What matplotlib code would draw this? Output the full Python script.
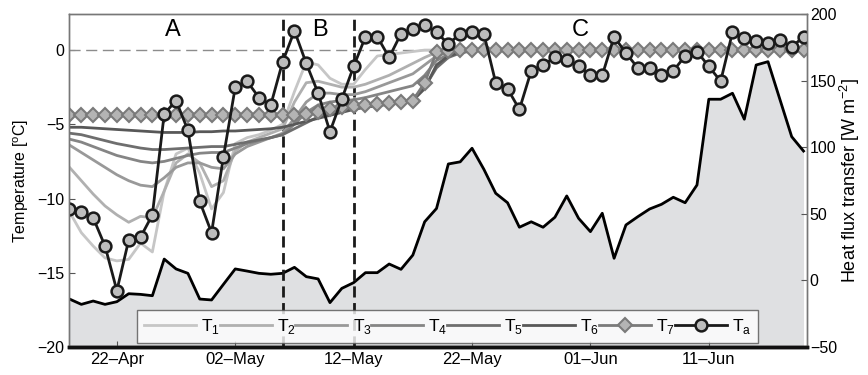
import numpy as np
import pandas as pd
import matplotlib
matplotlib.use("Agg")
import matplotlib.pyplot as plt
import matplotlib.dates as mdates

plt.rcParams["font.family"] = ["Liberation Sans", "DejaVu Sans"]
plt.rcParams["mathtext.fontset"] = "custom"
plt.rcParams["mathtext.rm"] = "Liberation Sans"

# daily values, 18-Apr .. 19-Jun
dates = pd.date_range("2013-04-18", "2013-06-19", freq="D")

ta = [-10.7, -10.9, -11.3, -13.2, -16.2, -12.8, -12.6, -11.1, -4.3, -3.4, -5.4, -10.2, -12.3,
      -7.2, -2.5, -2.1, -3.2, -3.7, -0.8, 1.3, -0.9, -2.9, -5.5, -3.3, -1.1, 0.9, 0.9, -0.5,
      1.1, 1.4, 1.7, 1.2, 0.4, 1.1, 1.2, 1.1, -2.2, -2.6, -4.0, -1.4, -1.0, -0.5, -0.7, -1.1,
      -1.7, -1.7, 0.9, -0.2, -1.2, -1.2, -1.7, -1.4, -0.4, -0.1, -1.1, -2.1, 1.2, 0.8, 0.6,
      0.5, 0.7, 0.2, 0.9]

t1 = [-10.9, -12.3, -13.2, -14.0, -14.2, -14.1, -13.0, -13.6, -9.5, -7.0, -6.6, -8.3, -10.7,
      -9.6, -6.3, -5.9, -5.7, -5.4, -5.0, -2.8, -0.8, -1.0, -1.9, -2.3, -2.3, -1.3, -0.4, -0.3,
      -0.2, -0.1, 0.0, 0.0, 0.0, 0.0, 0.0, 0.0, 0.0, 0.0, 0.0, 0.0, 0.0, 0.0, 0.0, 0.0, 0.0,
      0.0, 0.0, 0.0, 0.0, 0.0, 0.0, 0.0, 0.0, 0.0, 0.0, 0.0, 0.0, 0.0, 0.0, 0.0, 0.0, 0.0, 0.0]
t2 = [-7.9, -8.8, -9.7, -10.5, -11.1, -11.6, -11.2, -11.3, -9.5, -7.6, -7.0, -7.6, -9.2,
      -8.8, -6.8, -6.2, -5.9, -5.6, -5.3, -3.5, -2.2, -2.1, -2.3, -2.5, -2.5, -2.3, -2.0, -1.7,
      -1.3, -0.9, -0.5, -0.15, -0.05, 0.0, 0.0, 0.0, 0.0, 0.0, 0.0, 0.0, 0.0, 0.0, 0.0, 0.0,
      0.0, 0.0, 0.0, 0.0, 0.0, 0.0, 0.0, 0.0, 0.0, 0.0, 0.0, 0.0, 0.0, 0.0, 0.0, 0.0, 0.0, 0.0, 0.0]
t3 = [-6.4, -6.9, -7.4, -7.9, -8.4, -8.8, -9.1, -9.2, -8.6, -7.9, -7.6, -7.6, -7.9, -8.0,
      -7.0, -6.5, -6.2, -5.9, -5.6, -4.6, -3.5, -2.9, -2.9, -3.0, -3.0, -2.8, -2.5, -2.2, -1.9,
      -1.6, -1.0, -0.4, -0.15, -0.05, 0.0, 0.0, 0.0, 0.0, 0.0, 0.0, 0.0, 0.0, 0.0, 0.0, 0.0,
      0.0, 0.0, 0.0, 0.0, 0.0, 0.0, 0.0, 0.0, 0.0, 0.0, 0.0, 0.0, 0.0, 0.0, 0.0, 0.0, 0.0, 0.0]
t4 = [-6.0, -6.2, -6.5, -6.8, -7.1, -7.3, -7.5, -7.6, -7.5, -7.3, -7.1, -6.95, -6.9, -6.9,
      -6.6, -6.3, -6.1, -5.9, -5.7, -5.0, -4.2, -3.7, -3.5, -3.4, -3.35, -3.2, -3.0, -2.8, -2.6,
      -2.4, -1.7, -0.7, -0.3, -0.1, 0.0, 0.0, 0.0, 0.0, 0.0, 0.0, 0.0, 0.0, 0.0, 0.0, 0.0,
      0.0, 0.0, 0.0, 0.0, 0.0, 0.0, 0.0, 0.0, 0.0, 0.0, 0.0, 0.0, 0.0, 0.0, 0.0, 0.0, 0.0, 0.0]
t5 = [-5.6, -5.7, -5.9, -6.1, -6.3, -6.45, -6.6, -6.7, -6.7, -6.65, -6.6, -6.55, -6.5, -6.5,
      -6.35, -6.2, -6.05, -5.9, -5.7, -5.3, -4.9, -4.5, -4.2, -4.0, -3.9, -3.8, -3.7, -3.6, -3.5,
      -3.3, -2.5, -1.2, -0.5, -0.2, -0.05, 0.0, 0.0, 0.0, 0.0, 0.0, 0.0, 0.0, 0.0, 0.0, 0.0,
      0.0, 0.0, 0.0, 0.0, 0.0, 0.0, 0.0, 0.0, 0.0, 0.0, 0.0, 0.0, 0.0, 0.0, 0.0, 0.0, 0.0, 0.0]
t6 = [-5.2, -5.2, -5.25, -5.3, -5.35, -5.4, -5.45, -5.5, -5.55, -5.55, -5.55, -5.5, -5.5,
      -5.45, -5.45, -5.4, -5.35, -5.3, -5.2, -5.0, -4.8, -4.6, -4.4, -4.2, -4.0, -3.85, -3.75,
      -3.65, -3.55, -3.4, -2.6, -1.0, -0.4, -0.15, -0.05, 0.0, 0.0, 0.0, 0.0, 0.0, 0.0, 0.0,
      0.0, 0.0, 0.0, 0.0, 0.0, 0.0, 0.0, 0.0, 0.0, 0.0, 0.0, 0.0, 0.0, 0.0, 0.0, 0.0, 0.0, 0.0,
      0.0, 0.0, 0.0]
t7 = [-4.35, -4.35, -4.35, -4.35, -4.35, -4.35, -4.35, -4.35, -4.35, -4.35, -4.35, -4.35,
      -4.35, -4.35, -4.35, -4.35, -4.35, -4.35, -4.35, -4.35, -4.3, -4.2, -4.0, -3.85, -3.75,
      -3.7, -3.65, -3.55, -3.5, -3.4, -2.2, -0.15, -0.05, 0.0, 0.0, 0.0, 0.0, 0.0, 0.0, 0.0,
      0.0, 0.0, 0.0, 0.0, 0.0, 0.0, 0.0, 0.0, 0.0, 0.0, 0.0, 0.0, 0.0, 0.0, 0.0, 0.0, 0.0, 0.0,
      0.0, 0.0, 0.0, 0.0, 0.0]

flux = [-14, -18, -15.5, -18, -16, -10, -10.5, -11.5, 16, 8.6, 5.3, -14, -14.7, -3, 8.6, 7,
        5.3, 4.6, 5.3, 9.8, 2.8, 1.1, -16.7, -6, -1.7, 5.8, 5.8, 12.3, 8.3, 19, 44, 54, 87.4,
        89, 99.2, 83.4, 65.4, 58.3, 39.9, 44, 39.9, 47.4, 63.4, 46.6, 36.6, 50.4, 16.6, 41.6,
        47.8, 53.6, 57.1, 62.4, 58.3, 71.6, 136, 136, 140.5, 121, 161.7, 164.2, 136, 107.9, 97.1]

soil_series = [t1, t2, t3, t4, t5, t6]
soil_labels = ["T$_1$", "T$_2$", "T$_3$", "T$_4$", "T$_5$", "T$_6$"]
soil_colors = ["#c6c6c6", "#b0b0b0", "#999999", "#858585", "#6e6e6e", "#585858"]

period_bounds = pd.to_datetime(["2013-05-06", "2013-05-12"])
period_names = ["A", "B", "C"]
period_x = pd.to_datetime(["2013-04-26 18:00", "2013-05-09 03:00", "2013-05-31 03:00"])

fig = plt.figure(figsize=(8.68, 3.75), dpi=100)
ax1 = fig.add_axes([0.0795, 0.0747, 0.8502, 0.888])
ax2 = ax1.twinx()
ax1.set_zorder(ax2.get_zorder() + 1)
ax1.patch.set_visible(False)

# heat flux (right axis)
ax2.fill_between(dates, flux, -50, color="#dfe0e2", lw=0)
ax2.plot(dates, flux, color="k", lw=2)
ax2.set_ylim(-50, 200)
ax2.set_yticks([-50, 0, 50, 100, 150, 200])
ax2.set_ylabel("Heat flux transfer [W m$^{-2}$]", fontsize=13, labelpad=1)

# temperatures (left axis)
ax1.axhline(0, color="#8c8c8c", lw=1, ls=(0, (8, 4)))
for b in period_bounds:
    ax1.axvline(b, color="#1a1a1a", lw=2, ls=(0, (4, 2)))
handles = []
for s, lab, c in zip(soil_series, soil_labels, soil_colors):
    h, = ax1.plot(dates, s, color=c, lw=2, label=lab)
    handles.append(h)
h7, = ax1.plot(dates, t7, color="#7a7a7a", lw=2, marker="D", ms=7, mfc="#b4b4b4",
               mec="#7a7a7a", mew=1.5, label="T$_7$")
ha, = ax1.plot(dates, ta, color="#1a1a1a", lw=2, marker="o", ms=8.5, mfc="#bdbdbd",
               mec="#1a1a1a", mew=1.8, label="T$_\\mathregular{a}$")
handles += [h7, ha]

for name, x in zip(period_names, period_x):
    ax1.text(x, 1.35, name, fontsize=17, ha="center", va="center")

ax1.set_xlim(pd.Timestamp("2013-04-17 23:00"), pd.Timestamp("2013-06-19 07:00"))
ax1.set_ylim(-20, 2.43)
ax1.set_yticks([-20, -15, -10, -5, 0])
ax1.set_ylabel("Temperature [$^\\mathregular{o}$C]", fontsize=11.5)
ax1.set_xticks(pd.to_datetime(["2013-04-22", "2013-05-02", "2013-05-12", "2013-05-22",
                               "2013-06-01", "2013-06-11"]))
ax1.xaxis.set_major_formatter(mdates.DateFormatter("%d\u2013%b"))

for ax in (ax1, ax2):
    ax.tick_params(direction="in", labelsize=11.5, length=4, color="#555555")
    for sp in ax.spines.values():
        sp.set_color("#777777")
        sp.set_linewidth(1)
    ax.spines["bottom"].set_color("#111111")
    ax.spines["bottom"].set_linewidth(2.5)
ax1.tick_params(axis="x", labelsize=12)
ax2.tick_params(axis="y", pad=2)

leg = ax1.legend(handles=handles, ncol=8, loc="lower left",
                 bbox_to_anchor=(0.092, 0.012, 0.842, 0.111), mode="expand",
                 fontsize=12.5, frameon=True, fancybox=False, handlelength=3.0,
                 handletextpad=0.3, columnspacing=0.4, borderaxespad=0, borderpad=0.4)
leg.get_frame().set_edgecolor("#555555")
leg.get_frame().set_linewidth(1)

fig.savefig("out.png", dpi=100)
